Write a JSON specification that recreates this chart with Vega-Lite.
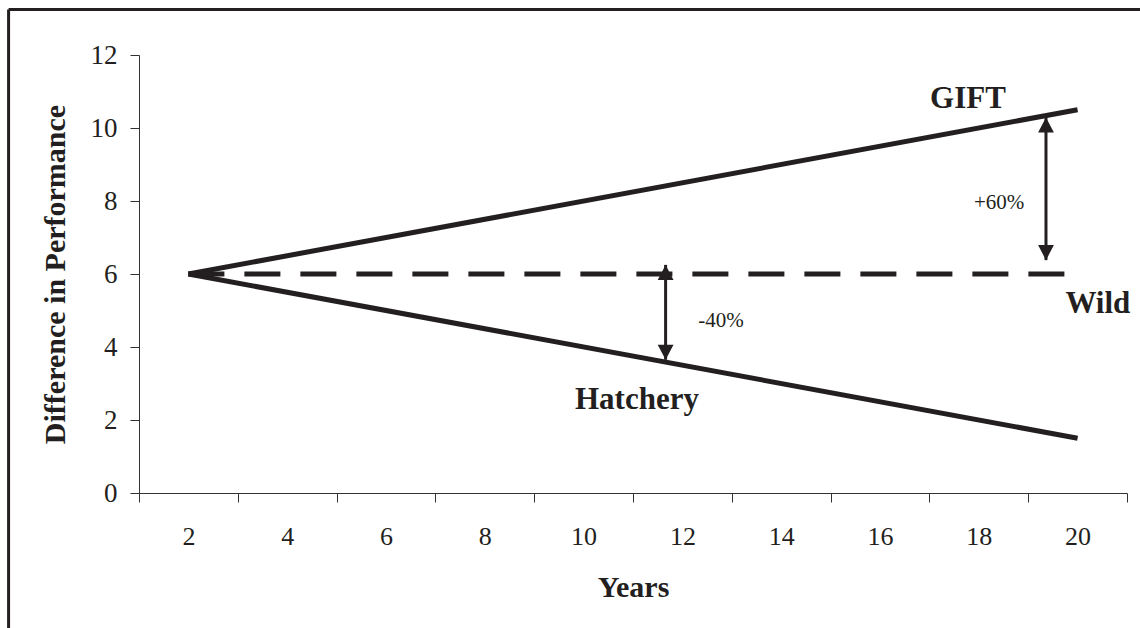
{
  "$schema": "https://vega.github.io/schema/vega-lite/v6.json",
  "width": 988,
  "height": 438,
  "autosize": "none",
  "padding": {"left": 139, "top": 55, "right": 13, "bottom": 135},
  "background": "white",
  "config": {
    "view": {"stroke": null},
    "font": "Liberation Serif",
    "axis": {
      "domainColor": "#333333",
      "tickColor": "#333333",
      "labelColor": "#231f20",
      "titleColor": "#231f20",
      "labelFont": "Liberation Serif",
      "titleFont": "Liberation Serif",
      "grid": false,
      "tickSize": 9,
      "domainWidth": 1,
      "tickWidth": 1
    }
  },
  "datasets": {
    "lines": [
      {"series": "GIFT", "year": 2, "value": 6},
      {"series": "GIFT", "year": 20, "value": 10.5},
      {"series": "Hatchery", "year": 2, "value": 6},
      {"series": "Hatchery", "year": 20, "value": 1.5},
      {"series": "Wild", "year": 2, "value": 6},
      {"series": "Wild", "year": 20, "value": 6}
    ],
    "arrows": [
      {"name": "GIFT vs Wild", "year": 19.36, "low": 6.38, "high": 10.29},
      {"name": "Hatchery vs Wild", "year": 11.66, "low": 3.65, "high": 6.25}
    ],
    "labels": [
      {"kind": "series", "text": "GIFT", "year": 17.78, "value": 10.56},
      {"kind": "series", "text": "Wild", "year": 20.41, "value": 4.94},
      {"kind": "series", "text": "Hatchery", "year": 11.08, "value": 2.3},
      {"kind": "change", "text": "-40%", "year": 12.78, "value": 4.55},
      {"kind": "change", "text": "+60%", "year": 18.41, "value": 7.79}
    ],
    "frame": [{"left": -1.64, "right": 21.3, "top": 13.25, "bottom": -3.8}]
  },
  "layer": [
    {
      "data": {"name": "lines"},
      "transform": [{"filter": "datum.series !== 'Wild'"}],
      "mark": {"type": "line", "color": "#231f20", "strokeWidth": 5},
      "encoding": {
        "x": {
          "field": "year", "type": "quantitative",
          "scale": {"domain": [1, 21], "nice": false, "zero": false},
          "axis": {
            "title": "Years",
            "values": [1, 3, 5, 7, 9, 11, 13, 15, 17, 19, 21],
            "labelExpr": "datum.value >= 21 ? '' : '' + (datum.value + 1)",
            "labelOffset": 49.4,
            "labelFontSize": 26,
            "labelPadding": 21,
            "labelFlush": false,
            "labelOverlap": false,
            "titleFontSize": 30,
            "titleFontWeight": "bold",
            "titlePadding": 23
          }
        },
        "y": {
          "field": "value", "type": "quantitative",
          "scale": {"domain": [0, 12], "nice": false},
          "axis": {
            "title": "Difference in Performance",
            "values": [0, 2, 4, 6, 8, 10, 12],
            "labelFontSize": 27,
            "labelPadding": 13,
            "titleFontSize": 30,
            "titleFontWeight": "bold",
            "titlePadding": 20
          }
        },
        "detail": {"field": "series"}
      }
    },
    {
      "data": {"name": "lines"},
      "transform": [{"filter": "datum.series === 'Wild'"}],
      "mark": {"type": "line", "color": "#231f20", "strokeWidth": 5, "strokeDash": [36, 20]},
      "encoding": {
        "x": {"field": "year", "type": "quantitative"},
        "y": {"field": "value", "type": "quantitative"}
      }
    },
    {
      "data": {"name": "arrows"},
      "mark": {"type": "rule", "color": "#231f20", "strokeWidth": 3},
      "encoding": {
        "x": {"field": "year", "type": "quantitative"},
        "y": {"field": "low", "type": "quantitative"},
        "y2": {"field": "high"}
      }
    },
    {
      "data": {"name": "arrows"},
      "mark": {"type": "point", "filled": true, "color": "#231f20", "opacity": 1, "shape": "M0,0L-1,1.9L1,1.9Z", "size": 250},
      "encoding": {
        "x": {"field": "year", "type": "quantitative"},
        "y": {"field": "high", "type": "quantitative"}
      }
    },
    {
      "data": {"name": "arrows"},
      "mark": {"type": "point", "filled": true, "color": "#231f20", "opacity": 1, "shape": "M0,0L-1,-1.9L1,-1.9Z", "size": 250},
      "encoding": {
        "x": {"field": "year", "type": "quantitative"},
        "y": {"field": "low", "type": "quantitative"}
      }
    },
    {
      "data": {"name": "labels"},
      "transform": [{"filter": "datum.kind === 'series'"}],
      "mark": {"type": "text", "font": "Liberation Serif", "fontSize": 31, "fontWeight": "bold", "color": "#231f20", "align": "center", "baseline": "alphabetic"},
      "encoding": {
        "x": {"field": "year", "type": "quantitative"},
        "y": {"field": "value", "type": "quantitative"},
        "text": {"field": "text"}
      }
    },
    {
      "data": {"name": "labels"},
      "transform": [{"filter": "datum.kind === 'change'"}],
      "mark": {"type": "text", "font": "Liberation Serif", "fontSize": 21, "color": "#231f20", "align": "center", "baseline": "alphabetic"},
      "encoding": {
        "x": {"field": "year", "type": "quantitative"},
        "y": {"field": "value", "type": "quantitative"},
        "text": {"field": "text"}
      }
    },
    {
      "data": {"name": "frame"},
      "mark": {"type": "rule", "color": "#231f20", "strokeWidth": 3, "clip": false},
      "encoding": {
        "x": {"field": "left", "type": "quantitative"},
        "x2": {"field": "right"},
        "y": {"field": "top", "type": "quantitative"}
      }
    },
    {
      "data": {"name": "frame"},
      "mark": {"type": "rule", "color": "#231f20", "strokeWidth": 3, "clip": false},
      "encoding": {
        "x": {"field": "left", "type": "quantitative"},
        "y": {"field": "top", "type": "quantitative"},
        "y2": {"field": "bottom"}
      }
    }
  ]
}
